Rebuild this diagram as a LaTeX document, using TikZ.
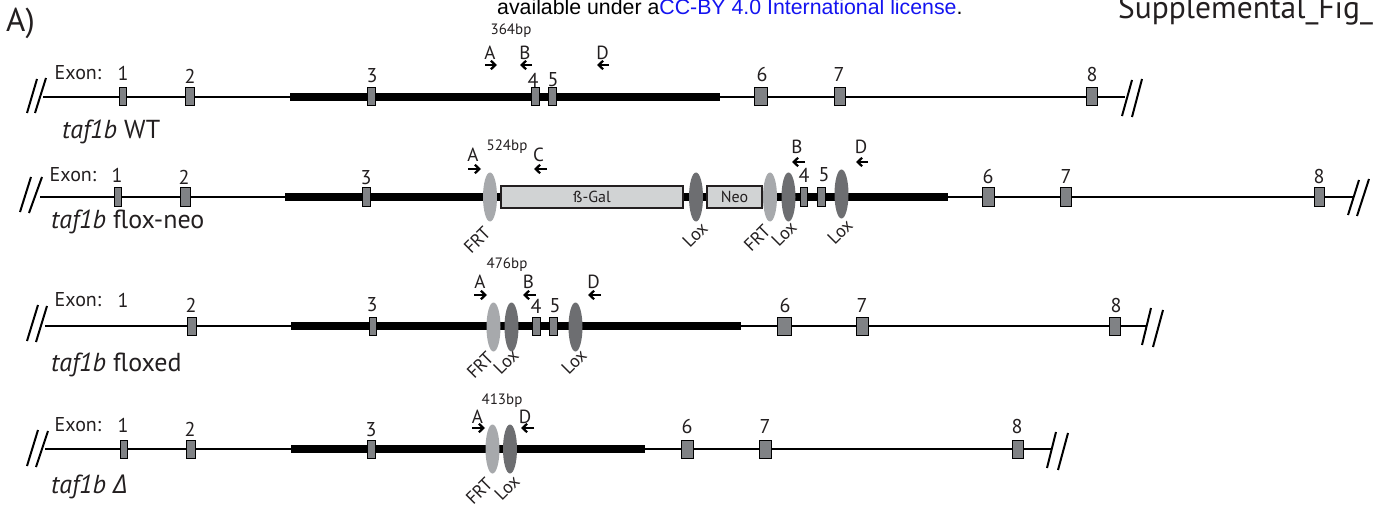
\documentclass[tikz,border=0pt]{standalone}
\usepackage{fontspec}
\usepackage{graphicx}
\setmainfont{PT Sans}
\newfontfamily\grkfont{Open Sans}
\newfontfamily\arialf{Liberation Sans}
\usetikzlibrary{shapes.geometric,arrows.meta}
\definecolor{txt}{HTML}{231F20}
\definecolor{exgray}{HTML}{808285}
\definecolor{frtgray}{HTML}{A7A9AC}
\definecolor{loxgray}{HTML}{6D6E71}
\definecolor{boxgray}{HTML}{D1D3D4}
\definecolor{ccblue}{RGB}{20,20,240}
\newcommand{\diag}[1]{\rotatebox{45}{#1}}
\tikzset{
  dna/.style={line width=2.5pt, draw=black},
  thickdna/.style={line width=8pt, draw=black},
  brk/.style={line width=2pt, draw=black},
  exon/.style={rectangle, draw=black, fill=exgray, line width=1pt, minimum height=18pt, inner sep=0pt},
  frt/.style={ellipse, fill=frtgray, minimum width=14pt, minimum height=49pt, inner sep=0pt},
  lox/.style={ellipse, fill=loxgray, minimum width=14pt, minimum height=49pt, inner sep=0pt},
  cassette/.style={rectangle, draw=txt, line width=2pt, fill=boxgray, minimum height=21pt, inner sep=0pt, text=txt, font=\fontsize{16}{16}\selectfont},
  lbl/.style={inner sep=0pt, text=txt, font=\fontsize{20}{20}\selectfont},
  plbl/.style={inner sep=0pt, text=txt, font=\fontsize{19}{19}\selectfont},
  bplbl/.style={inner sep=0pt, text=txt, font=\fontsize{15}{15}\selectfont},
  site/.style={inner sep=0pt, text=txt, font=\fontsize{18}{18}\selectfont},
  gname/.style={anchor=west, inner sep=0pt, text=txt, font=\fontsize{26}{26}\selectfont},
  primer/.style={line width=2.2pt, draw=black, -{Straight Barb[length=4.5pt,width=8.5pt]}},
}
\begin{document}
\begin{tikzpicture}[x=1pt,y=-1pt]
\useasboundingbox (0,0) rectangle (1374,508);
\clip (0,0) rectangle (1374,508);
\fill[white] (0,0) rectangle (1374,508);

% header
\node[anchor=base west, inner sep=0pt, font=\arialf\fontsize{21.3}{21.3}\selectfont] (lic) at (497,15) {available under a\textcolor{ccblue}{CC-BY 4.0 International license}.};
\node[anchor=base west, inner sep=0pt, text=txt, font=\fontsize{31.5}{31.5}\selectfont] (sup) at (1118,19) {Supplemental\_Fig\_};
\node[anchor=west, inner sep=0pt, text=txt, font=\fontsize{33}{33}\selectfont] (panelA) at (6,23) {A)};

% ================= Row 1: WT =================
\coordinate (r1L) at (43,97); \coordinate (r1R) at (1125,97);
\coordinate (r1tL) at (290,97); \coordinate (r1tR) at (720,97);
\draw[dna] (r1L) -- (r1R);
\draw[thickdna] (r1tL) -- (r1tR);
\draw[brk] (27,113) -- (37,79); \draw[brk] (35,113) -- (46,78);
\draw[brk] (1122,116) -- (1132,80); \draw[brk] (1132,117) -- (1142,79);
\foreach \n/\x/\w in {1/123/6.5,2/189.5/9,3/371/8,4/535/8,5/552/8,6/761/13,7/839.5/11,8/1091.5/11}
  \node[exon, minimum width=\w pt] (r1e\n) at (\x,97) {};
\node[lbl] (r1exon) at (78,72.5) {Exon:};
\foreach \t/\x/\y in {1/123/73,2/190/76,3/372/76,4/533/80,5/553/80,6/762/75,7/839/75,8/1092/75}
  \node[lbl] (r1n\t) at (\x,\y) {\t};
\node[gname] (r1name) at (62,132) {\textit{taf1b} WT};
\node[bplbl] (r1bp) at (511,31) {364bp};
\node[plbl] (r1A) at (490,52.5) {A};
\node[plbl] (r1B) at (525,52.5) {B};
\node[plbl] (r1D) at (602.5,52.5) {D};
\draw[primer] (485,65) -- (497,65);
\draw[primer] (532,65) -- (520,65);
\draw[primer] (609,65) -- (597,65);

% ================= Row 2: flox-neo =================
\coordinate (r2L) at (40,197); \coordinate (r2R) at (1353,197);
\coordinate (r2tL) at (285,197); \coordinate (r2tR) at (948,197);
\draw[dna] (r2L) -- (r2R);
\draw[thickdna] (r2tL) -- (r2tR);
\draw[brk] (20,212) -- (31,177); \draw[brk] (29,213) -- (42,177);
\draw[brk] (1348,215) -- (1359,180); \draw[brk] (1357,216) -- (1369,179);
\foreach \n/\x/\w in {1/117.5/7,2/185.5/10,3/366/8,4/803.5/7,5/821/8,6/988/12,7/1066/11,8/1319/10}
  \node[exon, minimum width=\w pt] (r2e\n) at (\x,197) {};
\node[frt] (r2f1) at (490,197) {};
\node[cassette, minimum width=182pt] (bgal) at (592,197) {ß-Gal};
\node[lox] (r2l1) at (696,197) {};
\node[cassette, minimum width=55pt] (neo) at (734.5,197) {Neo};
\node[frt] (r2f2) at (770,197) {};
\node[lox] (r2l2) at (788.5,197) {};
\node[lox] (r2l3) at (841.5,194) {};
\node[lbl] (r2exon) at (73,174.5) {Exon:};
\foreach \t/\x/\y in {1/117/175.5,2/184/177.5,3/366/177.5,4/804/175,5/824/175,6/988/176,7/1066/176,8/1319/176}
  \node[lbl] (r2n\t) at (\x,\y) {\t};
\node[gname] (r2name) at (51,222) {\textit{taf1b} flox-neo};
\node[bplbl] (r2bp) at (507,147) {524bp};
\node[plbl] (r2A) at (473,155) {A};
\node[plbl] (r2C) at (538.5,155) {C};
\node[plbl] (r2B) at (797,146.5) {B};
\node[plbl] (r2D) at (861,146.5) {D};
\draw[primer] (468,169) -- (481,169);
\draw[primer] (547,169) -- (534,169);
\draw[primer] (805,162) -- (792,162);
\draw[primer] (868,162) -- (856,162);
\node[site] (r2sf1) at (477,240) {\diag{FRT}};
\node[site] (r2sl1) at (695,235) {\diag{Lox}};
\node[site] (r2sf2) at (757,238) {\diag{FRT}};
\node[site] (r2sl2) at (784,234) {\diag{Lox}};
\node[site] (r2sl3) at (840,232) {\diag{Lox}};

% ================= Row 3: floxed =================
\coordinate (r3L) at (45,326); \coordinate (r3R) at (1147,326);
\coordinate (r3tL) at (291,326); \coordinate (r3tR) at (741,326);
\draw[dna] (r3L) -- (r3R);
\draw[thickdna] (r3tL) -- (r3tR);
\draw[brk] (27,341) -- (38,305); \draw[brk] (36,342) -- (47,306);
\draw[brk] (1142,345) -- (1151,308); \draw[brk] (1153,347) -- (1163,310);
\foreach \n/\x/\w in {2/191.5/9,3/372.5/7,4/536/8,5/553/8,6/784/14,7/862/12,8/1114.5/11}
  \node[exon, minimum width=\w pt] (r3e\n) at (\x,326.5) {};
\node[frt] (r3f1) at (493.5,327) {};
\node[lox] (r3l1) at (511.5,327) {};
\node[lox] (r3l2) at (575.5,327) {};
\node[lbl] (r3exon) at (78,300) {Exon:};
\foreach \t/\x/\y in {1/123/300,2/191/305,3/372/305,4/536/306,5/555/306,6/785/305,7/862/305,8/1116/305}
  \node[lbl] (r3n\t) at (\x,\y) {\t};
\node[gname] (r3name) at (51,365) {\textit{taf1b} floxed};
\node[bplbl] (r3bp) at (507,265) {476bp};
\node[plbl] (r3A) at (480,281.5) {A};
\node[plbl] (r3B) at (528.5,281.5) {B};
\node[plbl] (r3D) at (593.5,281.5) {D};
\draw[primer] (474,295) -- (487,295);
\draw[primer] (536,295) -- (523,295);
\draw[primer] (601,295) -- (588,295);
\node[site] (r3sf1) at (480,365) {\diag{FRT}};
\node[site] (r3sl1) at (506,362) {\diag{Lox}};
\node[site] (r3sl2) at (574,362) {\diag{Lox}};

% ================= Row 4: delta =================
\coordinate (r4L) at (45,449); \coordinate (r4R) at (1052,449);
\coordinate (r4tL) at (291,449); \coordinate (r4tR) at (645,449);
\draw[dna] (r4L) -- (r4R);
\draw[thickdna] (r4tL) -- (r4tR);
\draw[brk] (27,466) -- (38,430); \draw[brk] (36,467) -- (48,431);
\draw[brk] (1047,468) -- (1056,432); \draw[brk] (1058,470) -- (1068,433);
\foreach \n/\x/\w in {1/123.5/7,2/190.5/9,3/371/8,6/687/12,7/765/12,8/1017.5/11}
  \node[exon, minimum width=\w pt] (r4e\n) at (\x,449) {};
\node[frt] (r4f1) at (492.5,449) {};
\node[lox] (r4l1) at (510,449) {};
\node[lbl] (r4exon) at (78,425) {Exon:};
\foreach \t/\x/\y in {1/123/425,2/190/429.5,3/371/429.5,6/687/426,7/765/426,8/1017/426}
  \node[lbl] (r4n\t) at (\x,\y) {\t};
\node[gname] (r4name) at (51,487) {\textit{taf1b} {\grkfont\itshape Δ}};
\node[bplbl] (r4bp) at (502,401) {413bp};
\node[plbl] (r4A) at (477.5,416.5) {A};
\node[plbl] (r4D) at (525,416.5) {D};
\draw[primer] (472,428) -- (485,428);
\draw[primer] (534,428) -- (521,428);
\node[site] (r4sf1) at (479,491) {\diag{FRT}};
\node[site] (r4sl1) at (507,488) {\diag{Lox}};
\end{tikzpicture}
\end{document}
